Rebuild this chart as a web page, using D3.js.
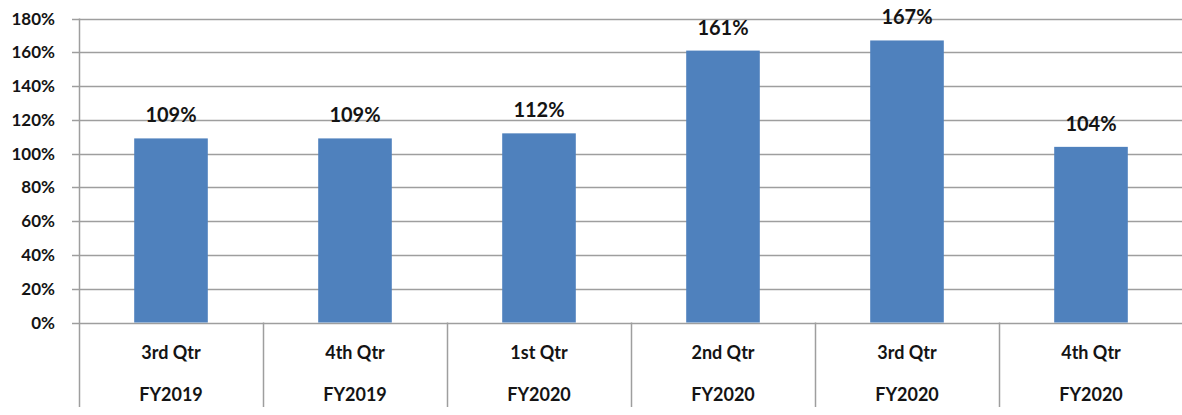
<!DOCTYPE html>
<html><head><meta charset="utf-8">
<script src="https://cdn.jsdelivr.net/npm/d3@7"></script>
<style>body{margin:0;background:#fff}svg{display:block}</style>
</head><body>
<svg id="c" width="1182" height="415"></svg>
<script>
const quarters = ["3rd Qtr","4th Qtr","1st Qtr","2nd Qtr","3rd Qtr","4th Qtr"];
const years = ["FY2019","FY2019","FY2020","FY2020","FY2020","FY2020"];
const values = [109,109,112,161,167,104];
const yTicks = [0,20,40,60,80,100,120,140,160,180];

(function(){
const svg = d3.select("#c");
const pL = 79, pR = 1183, pT = 18.5, pB = 322.5;
const font = "Lato, 'Open Sans', sans-serif";
const x = d3.scaleBand().domain(d3.range(values.length)).range([pL,pR]).paddingInner(0).paddingOuter(0);
const y = d3.scaleLinear().domain([0,180]).range([pB,pT]);
const grid = "#9e9e9e";
const ink = "#141414";

svg.append("g").selectAll("line").data(yTicks).join("line")
  .attr("x1",pL-7).attr("x2",pR).attr("y1",d=>Math.round(y(d))+0.5).attr("y2",d=>Math.round(y(d))+0.5)
  .attr("stroke",grid).attr("stroke-width",1.5);
svg.append("line").attr("x1",pL+0.5).attr("x2",pL+0.5).attr("y1",pT).attr("y2",407).attr("stroke",grid).attr("stroke-width",1.5);
svg.append("g").selectAll("text").data(yTicks).join("text")
  .attr("x",55).attr("y",d=>y(d)+6).attr("text-anchor","end")
  .attr("font-family",font).attr("font-weight","bold").attr("font-size",17).attr("fill",ink)
  .text(d=>d+"%");
svg.append("g").selectAll("line").data(d3.range(1,values.length)).join("line")
  .attr("x1",d=>Math.round(x(d))+0.5).attr("x2",d=>Math.round(x(d))+0.5).attr("y1",pB).attr("y2",407)
  .attr("stroke",grid).attr("stroke-width",1.5);
const bw = x.bandwidth()*0.4;
svg.append("g").selectAll("rect").data(values).join("rect")
  .attr("x",(d,i)=>x(i)+x.bandwidth()/2-bw/2).attr("width",bw)
  .attr("y",d=>y(d)).attr("height",d=>pB-y(d)).attr("fill","#4f81bd");
svg.append("g").selectAll("text").data(values).join("text")
  .attr("x",(d,i)=>x(i)+x.bandwidth()/2).attr("y",d=>y(d)-16)
  .attr("text-anchor","middle").attr("font-family",font).attr("font-weight","bold").attr("font-size",20).attr("fill",ink)
  .text(d=>d+"%");
const cat = svg.append("g").attr("font-family",font).attr("font-weight","bold").attr("font-size",18).attr("fill",ink).attr("text-anchor","middle");
cat.selectAll("text.q").data(quarters).join("text").attr("class","q")
  .attr("x",(d,i)=>x(i)+x.bandwidth()/2).attr("y",359).text(d=>d);
cat.selectAll("text.f").data(years).join("text").attr("class","f")
  .attr("x",(d,i)=>x(i)+x.bandwidth()/2).attr("y",401).text(d=>d);
})();
</script>
</body></html>
